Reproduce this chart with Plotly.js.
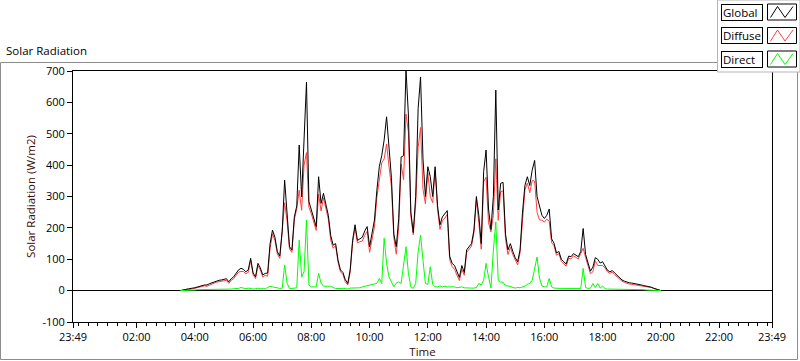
<!DOCTYPE html>
<html><head><meta charset="utf-8">
<script src="https://cdn.plot.ly/plotly-3.0.1.min.js"></script>
<style>html,body{margin:0;padding:0;background:#fff;}#chart{width:800px;height:361px;}</style>
</head><body><div id="chart"></div>
<script>
// ---- data ----
const dayStart = '2023-12-31 23:49';
const dayEnd = '2024-01-01 23:49';
const sampleDate = '2024-01-01';
const sampleStartMinutes = 3 * 60 + 30; // 03:30
const sampleStepMinutes = 5;

const globalRad = [
0,2,4,6,6,8,9,12,14,16,
18,18,22,25,28,31,33,34,37,38,
28,38,44,55,66,71,68,60,66,103,
56,44,87,72,50,55,56,150,193,170,
124,110,190,352,246,140,129,235,270,464,
299,458,665,284,257,230,204,363,278,310,
270,240,175,145,150,97,66,58,35,23,
66,160,210,160,165,170,190,204,140,190,
225,320,395,430,480,554,440,360,180,140,
230,426,430,703,560,250,185,300,580,681,
420,300,395,363,300,395,270,210,235,245,
255,110,87,80,58,42,80,58,130,140,
150,193,300,240,150,380,448,260,195,300,
639,257,342,345,180,130,150,125,105,92,
130,250,335,363,335,384,415,300,265,240,
230,240,260,165,151,120,125,100,92,85,
110,108,118,113,108,125,198,115,90,62,
75,105,100,88,92,78,65,60,64,56,
48,40,34,30,27,25,24,23,22,20,
18,16,15,13,11,8,5,2,0];

const diffuseRad = [
0,2,3,5,4,6,7,9,11,13,
15,14,18,21,24,27,29,29,32,33,
23,33,38,49,59,61,61,54,58,97,
51,38,79,66,43,49,46,136,181,160,
117,103,182,280,222,133,122,227,261,320,
256,400,440,266,245,218,192,308,254,296,
256,228,161,135,143,90,60,52,28,18,
58,152,200,152,156,158,176,189,122,170,
203,297,356,407,420,467,396,332,168,116,
202,403,354,563,505,238,178,277,456,520,
323,277,375,300,280,383,258,195,223,231,
243,98,77,68,49,32,68,49,122,132,
142,185,290,217,132,347,361,216,187,240,
420,224,315,318,165,115,138,115,97,82,
121,238,321,343,312,351,349,250,225,225,
218,228,221,153,143,113,118,93,85,78,
103,101,111,106,101,118,135,105,83,54,
60,95,80,80,80,72,60,55,59,51,
43,35,30,26,23,21,20,19,18,17,
16,14,13,11,10,7,4,1,0];

const directRad = [
0,0,1,1,2,2,2,3,3,3,
3,4,4,4,4,4,4,5,5,5,
5,5,6,6,7,10,7,6,8,6,
5,6,8,6,7,6,10,14,12,10,
7,7,8,82,24,7,7,8,9,161,
43,60,225,18,12,12,12,55,24,14,
14,12,14,10,7,7,6,6,7,5,
8,8,10,8,9,12,14,15,18,20,
22,23,39,23,167,87,44,28,12,24,
28,23,76,140,55,12,7,23,124,177,
97,23,20,76,20,12,12,15,12,14,
12,12,10,12,9,10,12,9,8,8,
8,8,10,23,18,33,87,44,8,129,
219,33,27,27,15,15,12,10,8,10,
9,12,14,20,23,33,66,107,40,15,
12,12,39,12,8,7,7,7,7,7,
7,7,7,7,7,7,71,10,7,8,
23,10,23,8,15,6,5,5,5,5,
5,5,5,5,5,5,5,5,5,4,
3,3,2,2,1,1,1,1,0];

const seriesNames = ['Global', 'Diffuse', 'Direct'];
const xTickTimes = ['2023-12-31 23:49','2024-01-01 02:00','2024-01-01 04:00','2024-01-01 06:00',
  '2024-01-01 08:00','2024-01-01 10:00','2024-01-01 12:00','2024-01-01 14:00','2024-01-01 16:00',
  '2024-01-01 18:00','2024-01-01 20:00','2024-01-01 22:00','2024-01-01 23:49'];
const xTickLabels = ['23:49','02:00','04:00','06:00','08:00','10:00','12:00','14:00','16:00',
  '18:00','20:00','22:00','23:49'];
const yTickVals = [-100,0,100,200,300,400,500,600,700];
const yTickLabels = ['-100','0','100','200','300','400','500','600','700'];

// ---- build ----
function pad(n){return (n<10?'0':'')+n;}
const times = globalRad.map((_, i) => {
  const m = sampleStartMinutes + i * sampleStepMinutes;
  return sampleDate + ' ' + pad(Math.floor(m/60)) + ':' + pad(m%60);
});

const colors = {Global:'#000000', Diffuse:'#ff4040', Direct:'#00ff00'};
const traces = [
  {x: times, y: diffuseRad, name: seriesNames[1], type:'scatter', mode:'lines', line:{color:colors.Diffuse,width:1}},
  {x: times, y: globalRad, name: seriesNames[0], type:'scatter', mode:'lines', line:{color:colors.Global,width:1}},
  {x: times, y: directRad, name: seriesNames[2], type:'scatter', mode:'lines', line:{color:colors.Direct,width:1}}
];

const L = 73, R = 28, T = 71, B = 39, W = 800, H = 361;
const pw = W - L - R, ph = H - T - B;
function px(X){return (X - L) / pw;}
function py(Y){return (T + ph - Y) / ph;}

const FONT = 'Open Sans, Noto Sans, sans-serif';
const shapes = [
  {type:'rect', xref:'paper', yref:'paper', x0:px(0.5), x1:px(797.5), y0:py(62.5), y1:py(359.5),
   line:{color:'#8c8c8c', width:1}, fillcolor:'rgba(0,0,0,0)', layer:'below'},
  {type:'rect', xref:'paper', yref:'paper', x0:px(717.5), x1:px(800), y0:py(0), y1:py(72),
   line:{color:'#b4b4b4', width:1}, fillcolor:'#ffffff', layer:'above'}
];
const annotations = [
  {xref:'paper', yref:'paper', x:px(4), y:py(50.5), xanchor:'left', yanchor:'middle', showarrow:false,
   text:'Solar Radiation', font:{family:FONT, size:11.5, color:'#000'}}
];
const entryTops = [3.5, 27, 50.5];
const entryH = 17;
const legendOrder = [0, 1, 2];
legendOrder.forEach((si, j) => {
  const name = seriesNames[si];
  const top = entryTops[j], bot = top + entryH, mid = (top + bot) / 2;
  annotations.push({xref:'paper', yref:'paper', x:px(721), y:py(mid), xanchor:'left', yanchor:'middle',
    showarrow:false, text:name, align:'left', width:38, height:13, borderpad:1, borderwidth:1,
    bordercolor:'#000', bgcolor:'#fff', font:{family:FONT, size:11.5, color:'#000'}});
  shapes.push({type:'rect', xref:'paper', yref:'paper', x0:px(767.5), x1:px(796.5), y0:py(top+0.5), y1:py(bot-0.5),
    line:{color:'#000', width:1}, fillcolor:'#fff', layer:'above'});
  const zx = [770.5, 777.5, 785, 793], zy = [bot-3, top+3, bot-3, top+3];
  let path = 'M' + px(zx[0]) + ',' + py(zy[0]);
  for (let k = 1; k < zx.length; k++) path += ' L' + px(zx[k]) + ',' + py(zy[k]);
  shapes.push({type:'path', xref:'paper', yref:'paper', path:path, line:{color:colors[name], width:1}, layer:'above'});
});

const layout = {
  width: W, height: H,
  margin: {l:L, r:R, t:T, b:B, pad:0},
  paper_bgcolor:'#ffffff', plot_bgcolor:'#ffffff',
  showlegend:false,
  font:{family:FONT, size:11, color:'#000'},
  xaxis:{
    type:'date', range:[dayStart, dayEnd], tickmode:'array', tickvals:xTickTimes, ticktext:xTickLabels,
    ticks:'outside', ticklen:5, tickcolor:'#000', tickwidth:1,
    showline:true, linecolor:'#000', linewidth:1, mirror:true, showgrid:false, zeroline:false,
    tickfont:{family:FONT, size:11, color:'#000'},
    minor:{tickmode:'linear', tick0:'2024-01-01 00:00', dtick:20*60*1000, ticks:'outside', ticklen:3, tickcolor:'#000', showgrid:false},
    title:{text:'Time', standoff:3, font:{family:FONT, size:11.5, color:'#3c0a0a'}}
  },
  yaxis:{
    range:[-100, 700], tickmode:'array', tickvals:yTickVals, ticktext:yTickLabels,
    ticks:'outside', ticklen:5, tickcolor:'#000', tickwidth:1,
    showline:true, linecolor:'#000', linewidth:1, mirror:true, showgrid:false,
    zeroline:true, zerolinecolor:'#000', zerolinewidth:1,
    tickfont:{family:FONT, size:11, color:'#000'},
    title:{text:'Solar Radiation (W/m2)', standoff:4, font:{family:FONT, size:11.5, color:'#3c0a0a'}}
  },
  shapes: shapes,
  annotations: annotations
};

Plotly.newPlot('chart', traces, layout, {displayModeBar:false, staticPlot:true});
</script>
</body></html>
